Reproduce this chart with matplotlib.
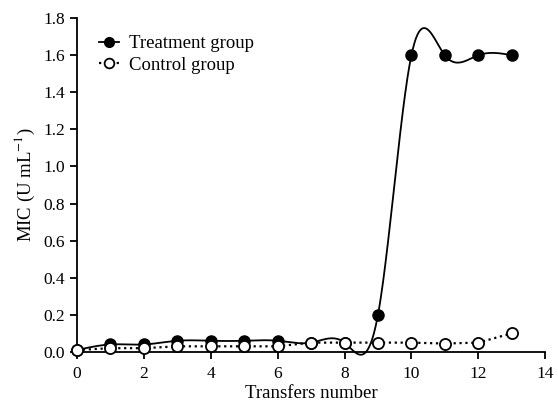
import numpy as np
import matplotlib
matplotlib.use("Agg")
import matplotlib.pyplot as plt

plt.rcParams['font.family'] = ['Liberation Serif', 'DejaVu Serif']
plt.rcParams['mathtext.fontset'] = 'stix'

transfers = np.arange(0, 14)
treatment = [0.01, 0.04, 0.04, 0.06, 0.06, 0.06, 0.06, 0.05, 0.05, 0.20, 1.60, 1.60, 1.60, 1.60]
control = [0.01, 0.02, 0.02, 0.03, 0.03, 0.03, 0.03, 0.05, 0.05, 0.05, 0.05, 0.045, 0.05, 0.10]


def natural_spline(x, y, n=60):
    # natural cubic spline, solved by hand (no scipy)
    x = np.asarray(x, float)
    y = np.asarray(y, float)
    k = len(x)
    h = np.diff(x)
    A = np.zeros((k, k))
    b = np.zeros(k)
    A[0, 0] = A[-1, -1] = 1
    for i in range(1, k - 1):
        A[i, i - 1] = h[i - 1]
        A[i, i] = 2 * (h[i - 1] + h[i])
        A[i, i + 1] = h[i]
        b[i] = 3 * ((y[i + 1] - y[i]) / h[i] - (y[i] - y[i - 1]) / h[i - 1])
    c = np.linalg.solve(A, b)
    xs, ys = [], []
    for i in range(k - 1):
        bi = (y[i + 1] - y[i]) / h[i] - h[i] * (2 * c[i] + c[i + 1]) / 3
        di = (c[i + 1] - c[i]) / (3 * h[i])
        t = np.linspace(0, h[i], n)
        xs.append(x[i] + t)
        ys.append(y[i] + bi * t + c[i] * t ** 2 + di * t ** 3)
    return np.concatenate(xs), np.concatenate(ys)


fig = plt.figure(figsize=(5.58, 4.04), dpi=100)
ax = fig.add_axes([0.138, 0.129, 0.839, 0.826])

sx, sy = natural_spline(transfers, treatment)
ax.plot(sx, sy, color='k', lw=1.3, zorder=2, clip_on=False)
ax.plot(transfers, treatment, 'o', color='k', ms=8, zorder=3, clip_on=False)
ax.plot(transfers, control, ':', color='k', lw=1.6, zorder=4)
ax.plot(transfers, control, 'o', mfc='white', mec='k', mew=1.3, ms=8, zorder=5, clip_on=False)

# legend handles
ax.plot([], [], '-o', color='k', lw=1.3, ms=7, label='Treatment group')
ax.plot([], [], ':o', color='k', mfc='white', mew=1.3, lw=1.6, ms=7, label='Control group')
h, l = ax.get_legend_handles_labels()
ax.legend(h[-2:], l[-2:], loc='upper left', bbox_to_anchor=(0.03, 0.972), borderaxespad=0,
          frameon=False, fontsize=13.5, handlelength=1.1, handletextpad=0.5, labelspacing=0.25)

ax.set_xlim(0, 14)
ax.set_ylim(0, 1.8)
ax.set_xticks(np.arange(0, 15, 2))
ax.set_yticks(np.arange(0, 1.81, 0.2))
ax.set_yticklabels(['%.1f' % v for v in np.arange(0, 1.81, 0.2)])
ax.spines['top'].set_visible(False)
ax.spines['right'].set_visible(False)
ax.spines['left'].set_linewidth(1.3)
ax.spines['bottom'].set_linewidth(1.3)
ax.tick_params(direction='out', length=5, width=1.3, labelsize=12.5)
ax.tick_params(axis='x', pad=5)
ax.set_xlabel('Transfers number', fontsize=13.5, labelpad=2)
ax.set_ylabel('MIC (U mL$^{-1}$)', fontsize=13.5, labelpad=5)

fig.savefig('out.png', dpi=100)
